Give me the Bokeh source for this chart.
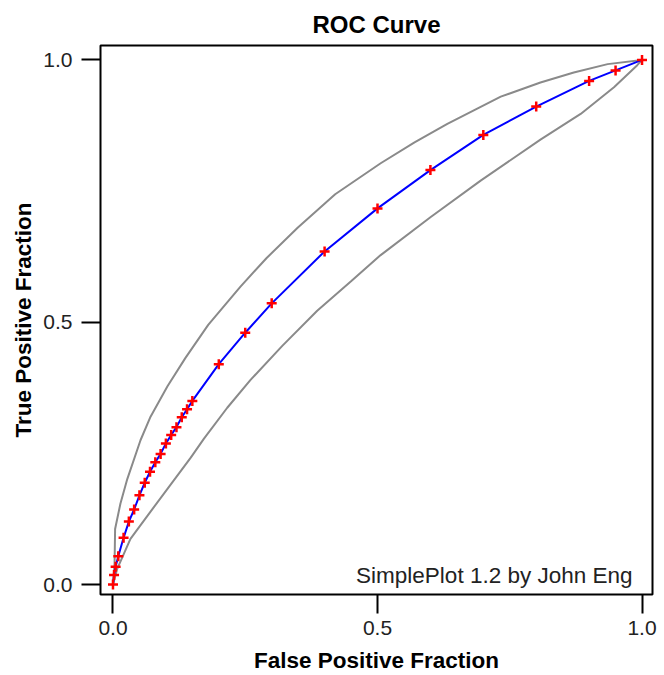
from bokeh.plotting import figure
from bokeh.models import FixedTicker, PrintfTickFormatter, Label, Range1d
from bokeh.embed import file_html
from bokeh.resources import INLINE

# ROC operating points (False Positive Fraction, True Positive Fraction)
roc_fpf = [0.0, 0.002, 0.005, 0.01, 0.02, 0.03, 0.04, 0.05, 0.06, 0.07, 0.08, 0.09,
           0.10, 0.11, 0.12, 0.13, 0.14, 0.15, 0.20, 0.25, 0.30, 0.40, 0.50, 0.60,
           0.70, 0.80, 0.90, 0.95, 1.0]
roc_tpf = [0.0, 0.018, 0.034, 0.054, 0.089, 0.120, 0.143, 0.170, 0.194, 0.215, 0.233, 0.249,
           0.269, 0.285, 0.300, 0.319, 0.334, 0.350, 0.420, 0.480, 0.536, 0.635, 0.717, 0.790,
           0.857, 0.911, 0.960, 0.980, 1.0]

# Upper confidence band
upper_fpf = [0.0, 0.003, 0.004, 0.014, 0.027, 0.052, 0.071, 0.103, 0.137, 0.18, 0.241, 0.29,
             0.349, 0.42, 0.506, 0.57, 0.632, 0.733, 0.808, 0.871, 0.935, 1.0]
upper_tpf = [0.0, 0.04, 0.106, 0.154, 0.201, 0.275, 0.32, 0.378, 0.432, 0.495, 0.568, 0.622,
             0.68, 0.744, 0.803, 0.843, 0.878, 0.93, 0.957, 0.976, 0.992, 1.0]

# Lower confidence band
lower_fpf = [0.0, 0.008, 0.033, 0.071, 0.11, 0.147, 0.172, 0.216, 0.26, 0.32, 0.386, 0.45,
             0.506, 0.60, 0.695, 0.808, 0.884, 0.947, 0.991, 1.0]
lower_tpf = [0.0, 0.030, 0.087, 0.139, 0.192, 0.242, 0.278, 0.337, 0.39, 0.455, 0.522, 0.578,
             0.628, 0.70, 0.77, 0.848, 0.897, 0.948, 0.99, 1.0]

tick_values = [0.0, 0.5, 1.0]
credit_text = "SimplePlot 1.2 by John Eng"

p = figure(width=662, height=675, output_backend="svg", toolbar_location=None,
           x_range=Range1d(-0.0236, 1.0198), y_range=Range1d(-0.019, 1.0275),
           min_border_left=100, min_border_right=10, min_border_top=45, min_border_bottom=79,
           title="ROC Curve")

p.title.align = "center"
p.title.text_font = "Liberation Sans"
p.title.text_font_size = "24px"
p.title.text_font_style = "bold"
p.title.text_color = "black"
p.title.standoff = 16

p.grid.visible = False
p.outline_line_color = "black"
p.outline_line_width = 2
p.background_fill_color = "white"
p.border_fill_color = "white"

for ax in (p.xaxis[0], p.yaxis[0]):
    ax.ticker = FixedTicker(ticks=tick_values)
    ax.formatter = PrintfTickFormatter(format="%.1f")
    ax.axis_line_color = None
    ax.major_tick_in = 0
    ax.major_tick_out = 19
    ax.major_tick_line_width = 2
    ax.major_tick_line_color = "black"
    ax.minor_tick_line_color = None
    ax.major_label_text_font = "Liberation Sans"
    ax.major_label_text_font_size = "21px"
    ax.major_label_text_color = "#222222"
    ax.axis_label_text_font = "Liberation Sans"
    ax.axis_label_text_font_size = "22.5px"
    ax.axis_label_text_font_style = "bold"
    ax.axis_label_text_color = "black"
    ax.axis_label_text_line_height = 0.9

p.xaxis.axis_label = "False Positive Fraction"
p.yaxis.axis_label = "True Positive Fraction"
p.xaxis.major_label_standoff = 7
p.yaxis.major_label_standoff = 9
p.xaxis.axis_label_standoff = 10
p.yaxis.axis_label_standoff = 4

p.line(upper_fpf, upper_tpf, line_color="#8a8a8a", line_width=2)
p.line(lower_fpf, lower_tpf, line_color="#8a8a8a", line_width=2)
p.line(roc_fpf, roc_tpf, line_color="#0000ff", line_width=2)
p.scatter(roc_fpf, roc_tpf, marker="cross", size=10, line_color="#ff0000", line_width=2.5)

p.add_layout(Label(x=0.982, y=0.0175, text=credit_text, text_align="right",
                   text_baseline="alphabetic", text_font="Liberation Sans",
                   text_font_size="22.5px", text_color="#222222"))

open("out.html", "w").write(file_html(p, INLINE))
